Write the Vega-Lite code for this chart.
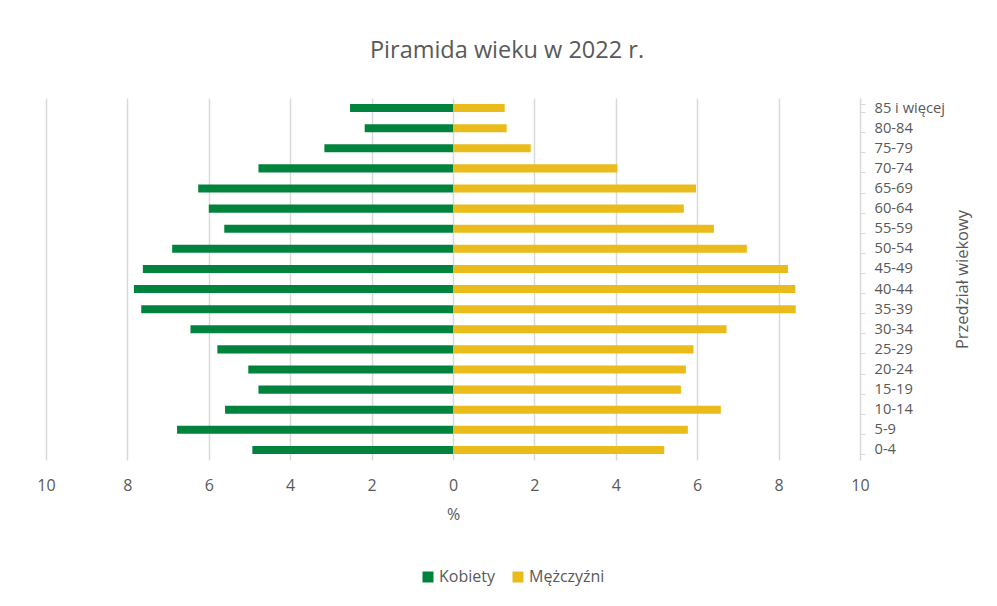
{
  "$schema": "https://vega.github.io/schema/vega-lite/v6.json",
  "autosize": {"type": "none"},
  "padding": {"left": 46, "top": 98, "right": 137, "bottom": 146},
  "width": 814,
  "height": 362,
  "background": "white",
  "title": {
    "text": "Piramida wieku w 2022 r.",
    "font": "Open Sans",
    "fontSize": 23.5,
    "fontWeight": "normal",
    "color": "#595959",
    "anchor": "middle",
    "dx": 54,
    "baseline": "alphabetic",
    "offset": 9
  },
  "data": {
    "values": [
      {"wiek": "85 i więcej", "plec": "Kobiety", "procent": 2.53},
      {"wiek": "80-84", "plec": "Kobiety", "procent": 2.17},
      {"wiek": "75-79", "plec": "Kobiety", "procent": 3.16},
      {"wiek": "70-74", "plec": "Kobiety", "procent": 4.78},
      {"wiek": "65-69", "plec": "Kobiety", "procent": 6.26},
      {"wiek": "60-64", "plec": "Kobiety", "procent": 6.0},
      {"wiek": "55-59", "plec": "Kobiety", "procent": 5.62},
      {"wiek": "50-54", "plec": "Kobiety", "procent": 6.9},
      {"wiek": "45-49", "plec": "Kobiety", "procent": 7.62},
      {"wiek": "40-44", "plec": "Kobiety", "procent": 7.84},
      {"wiek": "35-39", "plec": "Kobiety", "procent": 7.66},
      {"wiek": "30-34", "plec": "Kobiety", "procent": 6.45},
      {"wiek": "25-29", "plec": "Kobiety", "procent": 5.79},
      {"wiek": "20-24", "plec": "Kobiety", "procent": 5.03},
      {"wiek": "15-19", "plec": "Kobiety", "procent": 4.78},
      {"wiek": "10-14", "plec": "Kobiety", "procent": 5.6},
      {"wiek": "5-9", "plec": "Kobiety", "procent": 6.78},
      {"wiek": "0-4", "plec": "Kobiety", "procent": 4.93},
      {"wiek": "85 i więcej", "plec": "Mężczyźni", "procent": 1.27},
      {"wiek": "80-84", "plec": "Mężczyźni", "procent": 1.32},
      {"wiek": "75-79", "plec": "Mężczyźni", "procent": 1.91},
      {"wiek": "70-74", "plec": "Mężczyźni", "procent": 4.04},
      {"wiek": "65-69", "plec": "Mężczyźni", "procent": 5.97},
      {"wiek": "60-64", "plec": "Mężczyźni", "procent": 5.67},
      {"wiek": "55-59", "plec": "Mężczyźni", "procent": 6.41},
      {"wiek": "50-54", "plec": "Mężczyźni", "procent": 7.22},
      {"wiek": "45-49", "plec": "Mężczyźni", "procent": 8.23},
      {"wiek": "40-44", "plec": "Mężczyźni", "procent": 8.41},
      {"wiek": "35-39", "plec": "Mężczyźni", "procent": 8.42},
      {"wiek": "30-34", "plec": "Mężczyźni", "procent": 6.72},
      {"wiek": "25-29", "plec": "Mężczyźni", "procent": 5.91},
      {"wiek": "20-24", "plec": "Mężczyźni", "procent": 5.72},
      {"wiek": "15-19", "plec": "Mężczyźni", "procent": 5.6},
      {"wiek": "10-14", "plec": "Mężczyźni", "procent": 6.58},
      {"wiek": "5-9", "plec": "Mężczyźni", "procent": 5.77},
      {"wiek": "0-4", "plec": "Mężczyźni", "procent": 5.19}
    ]
  },
  "transform": [
    {"calculate": "datum.plec === 'Kobiety' ? -datum.procent : datum.procent", "as": "x"}
  ],
  "mark": {"type": "bar"},
  "encoding": {
    "y": {
      "field": "wiek",
      "type": "nominal",
      "sort": ["85 i więcej", "80-84", "75-79", "70-74", "65-69", "60-64", "55-59", "50-54", "45-49", "40-44", "35-39", "30-34", "25-29", "20-24", "15-19", "10-14", "5-9", "0-4"],
      "scale": {"paddingInner": 0.6, "paddingOuter": 0.3},
      "axis": {
        "orient": "right",
        "title": "Przedział wiekowy",
        "titleAngle": 270,
        "titleFont": "Open Sans",
        "titleFontSize": 16.5,
        "titleFontWeight": "normal",
        "titleColor": "#595959",
        "titlePadding": 26,
        "labelFont": "Open Sans",
        "labelFontSize": 14.7,
        "labelColor": "#595959",
        "labelPadding": 9,
        "tickBand": "extent",
        "tickSize": 5,
        "tickColor": "#d9d9d9",
        "domainColor": "#d9d9d9",
        "grid": false
      }
    },
    "x": {
      "field": "x",
      "type": "quantitative",
      "scale": {"domain": [-10, 10], "nice": false},
      "axis": {
        "values": [-10, -8, -6, -4, -2, 0, 2, 4, 6, 8, 10],
        "labelExpr": "format(abs(datum.value), 'd')",
        "labelFlush": false,
        "title": "%",
        "titleFont": "Open Sans",
        "titleFontSize": 16,
        "titleFontWeight": "normal",
        "titleColor": "#595959",
        "titlePadding": 13,
        "labelFont": "Open Sans",
        "labelFontSize": 16,
        "labelColor": "#595959",
        "labelPadding": 17,
        "ticks": false,
        "domain": false,
        "grid": true,
        "gridColor": "#d9d9d9",
        "gridWidth": 1.5
      }
    },
    "color": {
      "field": "plec",
      "type": "nominal",
      "scale": {"domain": ["Kobiety", "Mężczyźni"], "range": ["#00843d", "#e9bb1b"]},
      "legend": {
        "title": null,
        "orient": "none",
        "direction": "horizontal",
        "legendX": 374,
        "legendY": 471,
        "symbolType": "square",
        "symbolSize": 121,
        "symbolStrokeWidth": 0,
        "labelFont": "Open Sans",
        "labelFontSize": 16,
        "labelColor": "#595959",
        "labelOffset": 3,
        "columnPadding": 15
      }
    }
  },
  "config": {
    "view": {"stroke": null}
  }
}
